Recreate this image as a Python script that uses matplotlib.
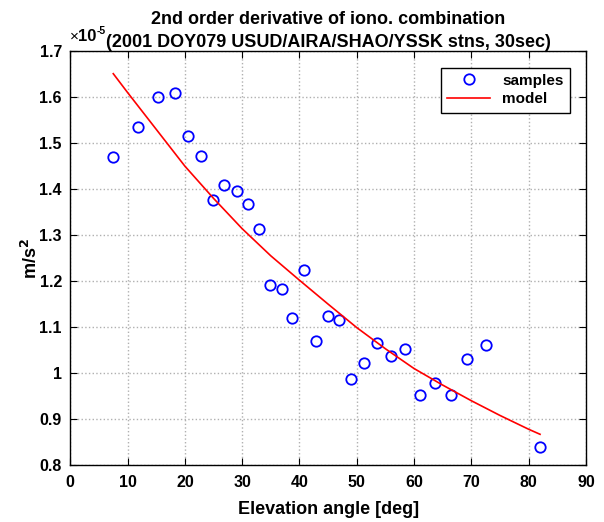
import matplotlib
matplotlib.use("Agg")
import matplotlib.pyplot as plt
from matplotlib.ticker import FuncFormatter

plt.rcParams['font.family'] = ['Liberation Sans', 'DejaVu Sans']
plt.rcParams['font.weight'] = 'bold'
plt.rcParams['mathtext.default'] = 'bf'

# samples (elevation deg, value in 1e-5 m/s^2)
elev = [7.4, 11.8, 15.3, 18.2, 20.6, 22.9, 24.9, 26.9, 29.1, 31.1, 33.0,
        34.9, 36.9, 38.7, 40.8, 42.9, 44.9, 46.9, 49.0, 51.2, 53.5, 56.0,
        58.4, 61.0, 63.6, 66.4, 69.2, 72.5, 82.0]
d2 = [1.470, 1.535, 1.600, 1.610, 1.516, 1.471, 1.376, 1.410, 1.396, 1.367, 1.313,
      1.191, 1.183, 1.120, 1.225, 1.069, 1.124, 1.116, 0.988, 1.021, 1.066, 1.038,
      1.052, 0.952, 0.978, 0.953, 1.030, 1.062, 0.840]

# model curve
model_elev = [7.5, 10, 15, 20, 25, 30, 35, 40, 45, 50, 55, 60, 65, 70, 75, 80, 82]
model_val = [1.651, 1.610, 1.530, 1.450, 1.380, 1.314, 1.255, 1.202, 1.150, 1.099,
             1.053, 1.010, 0.974, 0.940, 0.908, 0.878, 0.867]

W, H = 604, 522
fig = plt.figure(figsize=(W / 100, H / 100), dpi=100)
ax = fig.add_axes([0.1164, 0.109, 0.8536, 0.793])

ax.plot(elev, d2, 'o', mfc='none', mec='blue', ms=7.5, mew=1.3, label='samples')
ax.plot(model_elev, model_val, '-', color='red', lw=1.2, label='model')

ax.set_xlim(0, 90)
ax.set_ylim(0.8, 1.7)
ax.set_xticks(range(0, 91, 10))
ax.set_yticks([0.8, 0.9, 1.0, 1.1, 1.2, 1.3, 1.4, 1.5, 1.6, 1.7])
ax.yaxis.set_major_formatter(FuncFormatter(lambda v, p: '%g' % round(v, 2)))
ax.grid(True, color='#b0b0b0', linestyle=':', linewidth=1.0)
ax.tick_params(direction='in', top=True, right=True, labelsize=11.5, length=5)
ax.tick_params(axis='x', pad=7)
ax.tick_params(axis='y', pad=6)
for s in ax.spines.values():
    s.set_linewidth(1.0)

ax.set_xlabel('Elevation angle [deg]', fontsize=13, fontweight='bold', labelpad=8)
ax.set_ylabel('m/s$^2$', fontsize=13, fontweight='bold', labelpad=-1)
ax.set_title('2nd order derivative of iono. combination\n'
             '(2001 DOY079 USUD/AIRA/SHAO/YSSK stns, 30sec)',
             fontsize=13, fontweight='bold', pad=3, linespacing=1.45)

# MATLAB-style exponent label, pieced together
fig.text(70 / W, 1 - 41 / H, '×', fontsize=11, fontweight='normal', va='baseline')
fig.text(78 / W, 1 - 41 / H, '10', fontsize=12, fontweight='bold', va='baseline')
fig.text(96.5 / W, 1 - 34 / H, '-5', fontsize=7.5, fontweight='bold', va='baseline')

leg = ax.legend(loc='upper right', bbox_to_anchor=(0.969, 0.96), fancybox=False,
                framealpha=1, edgecolor='black', fontsize=11, handlelength=2.8,
                borderaxespad=0.0, labelspacing=0.3)
leg.get_frame().set_linewidth(1.0)

fig.savefig('out.png', dpi=100)
